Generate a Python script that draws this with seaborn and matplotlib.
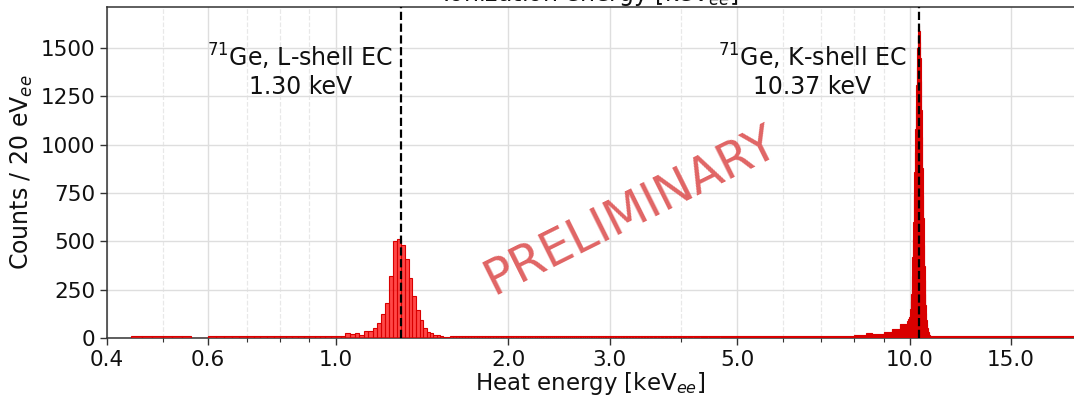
import numpy as np
import pandas as pd
import matplotlib
matplotlib.use("Agg")
import matplotlib.pyplot as plt
import seaborn as sns
from matplotlib.ticker import FixedLocator, FixedFormatter, LogLocator, NullFormatter

# ---------------- data ----------------
BIN_WIDTH_KEV = 0.02
E_MIN, E_MAX = 0.44, 19.40

# flat continuum levels (counts / 20 eV) on energy segments [lo, hi)
cont_lo = [0.44, 0.60, 0.84, 0.93, 1.58, 1.70, 3.00, 5.00, 7.00, 8.00, 8.40, 8.60, 9.00, 9.30, 9.60, 10.90]
cont_hi = [0.57, 0.84, 0.93, 1.02, 1.70, 3.00, 5.00, 7.00, 8.00, 8.40, 8.60, 9.00, 9.30, 9.60, 9.90, 19.40]
cont_counts = [8, 8, 12, 9, 10, 8, 9, 10, 12, 15, 25, 22, 32, 45, 70, 9]

# L-shell peak: consecutive 20 eV bins starting at 1.02 keV
l_start = 1.02
l_counts = [8, 25, 20, 25, 17, 37, 37, 50, 80, 122, 183, 322, 500, 512, 483,
            410, 308, 217, 144, 93, 54, 30, 25, 17, 14, 8, 7, 6]

# K-shell peak: consecutive 20 eV bins starting at 9.90 keV
k_start = 9.90
k_counts = [90, 95, 100, 105, 110, 120, 150, 190, 230, 320,
            420, 510, 600, 740, 860, 960, 1080, 1200, 1310, 1400,
            1500, 1560, 1600, 1620, 1590, 1530, 1450, 1330, 1180, 1040,
            880, 740, 620, 480, 370, 300, 230, 170, 130, 95,
            70, 50, 38, 30, 24, 18, 14, 12, 10, 9]

line_energies = [1.30, 10.37]
line_labels = ["$^{71}$Ge, L-shell EC\n1.30 keV", "$^{71}$Ge, K-shell EC\n10.37 keV"]
xtick_values = [0.4, 0.6, 1.0, 2.0, 3.0, 5.0, 10.0, 15.0]
xtick_labels = ["0.4", "0.6", "1.0", "2.0", "3.0", "5.0", "10.0", "15.0"]
ytick_values = [0, 250, 500, 750, 1000, 1250, 1500]

# ---------------- assemble the 20 eV histogram ----------------
n_bins = int(round((E_MAX - E_MIN) / BIN_WIDTH_KEV))
edges = np.round(E_MIN + BIN_WIDTH_KEV * np.arange(n_bins + 1), 2)
centers = edges[:-1] + BIN_WIDTH_KEV / 2
counts = np.zeros(n_bins)
for lo, hi, c in zip(cont_lo, cont_hi, cont_counts):
    counts[(centers >= lo) & (centers < hi)] = c
for start, vals in ((l_start, l_counts), (k_start, k_counts)):
    i0 = int(round((start - E_MIN) / BIN_WIDTH_KEV))
    counts[i0:i0 + len(vals)] = vals
df = pd.DataFrame({"energy": centers, "counts": counts})

# ---------------- figure ----------------
sns.set_theme(style="ticks")
plt.rcParams["font.family"] = ["DejaVu Sans"]

W, H = 1074, 399
fig = plt.figure(figsize=(W / 100, H / 100), dpi=100)
ax = fig.add_axes([107 / W, 1 - 338 / H, 1 - 107 / W, (338 - 7) / H])

sns.histplot(data=df, x="energy", weights="counts", bins=[float(b) for b in edges], ax=ax,
             color="red", alpha=0.72, edgecolor=(0.85, 0.0, 0.0), linewidth=0.8, zorder=3)

ax.set_xscale("log")
ax.set_xlim(0.4, 19.3)
ax.set_ylim(0, 1712)

ax.xaxis.set_major_locator(FixedLocator(xtick_values))
ax.xaxis.set_major_formatter(FixedFormatter(xtick_labels))
ax.xaxis.set_minor_locator(LogLocator(base=10, subs=np.arange(2, 10) * 1.0))
ax.xaxis.set_minor_formatter(NullFormatter())
ax.set_yticks(ytick_values)

ax.grid(which="major", color="#dedede", linewidth=1.0)
ax.grid(which="minor", axis="x", color="#e8e8e8", linestyle="--", linewidth=0.9)
ax.set_axisbelow(True)

ax.tick_params(axis="both", which="major", labelsize=15.5, length=5, width=1.0,
               color="#333333", labelcolor="#111111")
ax.tick_params(axis="x", which="minor", length=3, width=0.8, color="#333333")

for side in ("left", "bottom", "top"):
    ax.spines[side].set_color("#333333")
    ax.spines[side].set_linewidth(1.1)
ax.spines["right"].set_visible(False)

for e in line_energies:
    ax.axvline(e, color="black", linestyle="--", linewidth=1.6, zorder=4)

label_x = [1.262, 9.86]
for x, txt in zip(label_x, line_labels):
    ax.text(x, 1530, txt, ha="right", va="top", multialignment="center",
            fontsize=17, color="#111111", zorder=5, linespacing=1.15)

ax.text(3.26, 660, "PRELIMINARY", rotation=26.5, ha="center", va="center",
        rotation_mode="anchor", fontsize=35, color="#e06464", zorder=6)

ax.set_xlabel("Heat energy [keV$_{ee}$]", fontsize=16.5, color="#111111", labelpad=0)
ax.set_ylabel("Counts / 20 eV$_{ee}$", fontsize=17, color="#111111", labelpad=4)

fig.text(590 / W, 1 - 1.5 / H, "Ionization energy [keV$_{ee}$]", ha="center",
         va="baseline", fontsize=17, color="#111111")

fig.savefig("out.png", dpi=100)
